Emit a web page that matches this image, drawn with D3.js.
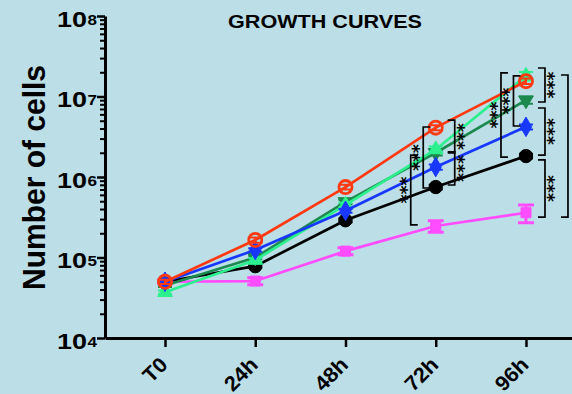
<!DOCTYPE html>
<html><head><meta charset="utf-8">
<script src="https://cdn.jsdelivr.net/npm/d3@7/dist/d3.min.js"></script>
<style>
html,body{margin:0;padding:0;background:#bcdee6;}
svg{display:block;font-family:"Liberation Sans",Arial,sans-serif;}
</style></head><body>
<script>
// ---- data ----
const timepoints = ["T0", "24h", "48h", "72h", "96h"];
const seriesNames = ["magenta", "black", "darkgreen", "green", "blue", "red"];
const magentaVals = [5.0e4, 5.1e4, 1.2e5, 2.46e5, 3.6e5];
const magentaSD   = [2e3, 5e3, 1.2e4, 4e4, 9e4];
const blackVals   = [5.0e4, 7.8e4, 2.9e5, 7.5e5, 1.82e6];
const blackSD     = [2e3, 4e3, 1.5e4, 5e4, 1.2e5];
const darkgreenVals = [4.5e4, 1.0e5, 4.9e5, 2.0e6, 9.0e6];
const darkgreenSD   = [2e3, 5e3, 3e4, 1.5e5, 9e5];
const greenVals   = [3.7e4, 9.3e4, 4.5e5, 2.2e6, 1.8e7];
const greenSD     = [2e3, 5e3, 3e4, 2e5, 2.2e6];
const blueVals    = [5.0e4, 1.24e5, 3.8e5, 1.33e6, 4.2e6];
const blueSD      = [2e3, 6e3, 2e4, 1e5, 3e5];
const redVals     = [5.0e4, 1.65e5, 7.5e5, 4.1e6, 1.55e7];
const redSD       = [3e3, 1.2e4, 5e4, 3e5, 1.2e6];
const yMajorTicks = [1e4, 1e5, 1e6, 1e7, 1e8];
const yTickExponents = ["4", "5", "6", "7", "8"];
const titleText = "GROWTH CURVES";
const yLabelText = "Number of cells";
// significance brackets: time index, upper & lower value, side, level
const bracketTime  = [3, 3, 3, 3, 4, 4, 4, 4, 4, 4];
const bracketHigh  = [1.87e6, 4.18e6, 5.1e6, 2.05e6, 1.96e7, 1.8e7, 2.26e7, 7.2e6, 1.63e6, 1.85e7];
const bracketLow   = [2.54e5, 7.3e5, 1.99e6, 7.96e5, 1.77e6, 4.3e6, 8.55e6, 1.87e6, 3.18e5, 3.18e5];
const bracketSide  = ["L", "L", "R", "R", "L", "L", "R", "R", "R", "R"];
const bracketLevel = [1, 0, 0, 0, 1, 0, 0, 0, 0, 1];
const bracketStars = ["***", "***", "***", "***", "***", "***", "***", "***", "***", ""];

// ---- styles ----
const W = 572, H = 394;
const styles = {
  magenta:   {color: "#ff4cff", symbol: d3.symbolSquare, size: 100, fill: true},
  black:     {color: "#000000", symbol: d3.symbolCircle, size: 140, fill: true},
  darkgreen: {color: "#1c8a4e", symbol: d3.symbolTriangle, size: 95, fill: true, rotate: 180},
  green:     {color: "#2cf08e", symbol: d3.symbolTriangle, size: 95, fill: true},
  blue:      {color: "#1838ff", symbol: d3.symbolDiamond, size: 110, fill: true},
  red:       {color: "#ff3a12", symbol: d3.symbolCircle, size: 135, fill: false}
};
const valuesBy = {magenta: magentaVals, black: blackVals, darkgreen: darkgreenVals, green: greenVals, blue: blueVals, red: redVals};
const sdBy = {magenta: magentaSD, black: blackSD, darkgreen: darkgreenSD, green: greenSD, blue: blueSD, red: redSD};

const svg = d3.select("body").append("svg").attr("width", W).attr("height", H);
svg.append("rect").attr("width", W).attr("height", H).attr("fill", "#bcdee6");

const x = d3.scaleLinear().domain([-0.665, 4.51]).range([105, 572]);
const y = d3.scaleLog().domain([1e4, 1e8]).range([338, 16]);

// title
svg.append("text").attr("x", 325).attr("y", 28).attr("text-anchor", "middle")
  .attr("font-size", 18).attr("font-weight", "bold")
  .attr("textLength", 194).attr("lengthAdjust", "spacingAndGlyphs").text(titleText);

// y label
svg.append("text").attr("transform", "translate(44.5,177.5) rotate(-90)")
  .attr("text-anchor", "middle").attr("font-size", 31).attr("font-weight", "bold")
  .attr("textLength", 225).attr("lengthAdjust", "spacingAndGlyphs").text(yLabelText);

// y axis minor ticks
const minor = [];
for (let e = 4; e < 8; e++) for (let m = 2; m <= 9; m++) minor.push(m * Math.pow(10, e));
const yMinor = svg.append("g").attr("transform", "translate(105,0)")
  .call(d3.axisLeft(y).tickValues(minor).tickSize(5).tickFormat(""));
yMinor.select(".domain").remove();
yMinor.selectAll(".tick line").attr("stroke", "#000").attr("stroke-width", 2);

const yAxis = svg.append("g").attr("transform", "translate(105,0)")
  .call(d3.axisLeft(y).tickValues(yMajorTicks).tickSize(8).tickSizeOuter(0).tickFormat(""));
yAxis.select(".domain").attr("stroke", "#000").attr("stroke-width", 3);
yAxis.selectAll(".tick line").attr("stroke", "#000").attr("stroke-width", 2.5);

// y tick labels 10^n
yMajorTicks.forEach((v, i) => {
  const ty = y(v);
  svg.append("text").attr("x", 87).attr("y", ty + 10.5).attr("text-anchor", "end")
    .attr("font-size", 22).attr("font-weight", "bold")
    .attr("textLength", 30).attr("lengthAdjust", "spacingAndGlyphs").text("10");
  svg.append("text").attr("x", 87.5).attr("y", ty + 8.5).attr("text-anchor", "start")
    .attr("font-size", 15).attr("font-weight", "bold")
    .attr("textLength", 9.5).attr("lengthAdjust", "spacingAndGlyphs").text(yTickExponents[i]);
});

// x axis
const xAxis = svg.append("g").attr("transform", "translate(0,338)")
  .call(d3.axisBottom(x).tickValues(d3.range(timepoints.length)).tickSize(9).tickSizeOuter(0).tickFormat(""));
xAxis.select(".domain").attr("stroke", "#000").attr("stroke-width", 3);
xAxis.selectAll(".tick line").attr("stroke", "#000").attr("stroke-width", 2.5);
timepoints.forEach((t, i) => {
  svg.append("text").attr("transform", `translate(${x(i) + 4},366) rotate(-45)`)
    .attr("text-anchor", "end").attr("font-size", 21).attr("font-weight", "bold")
    .attr("textLength", t.length * 12.5).attr("lengthAdjust", "spacingAndGlyphs")
    .text(t);
});

// series
const line = d3.line().x((d, i) => x(i)).y(d => y(d));
const gS = svg.append("g");
seriesNames.forEach(name => {
  const st = styles[name], vals = valuesBy[name], sds = sdBy[name];
  const g = gS.append("g");
  g.append("path").attr("d", line(vals)).attr("fill", "none")
    .attr("stroke", st.color).attr("stroke-width", 2.7).attr("stroke-linejoin", "round");
  // error bars
  vals.forEach((v, i) => {
    const cx = x(i), y1 = y(v + sds[i]), y2 = y(Math.max(v - sds[i], 1));
    const cw = name === "magenta" ? 8 : 7;
    g.append("path")
      .attr("d", `M${cx},${y1}V${y2}M${cx - cw},${y1}H${cx + cw}M${cx - cw},${y2}H${cx + cw}`)
      .attr("stroke", st.color).attr("stroke-width", name === "magenta" ? 3 : 2).attr("fill", "none");
  });
  // markers
  const sym = d3.symbol().type(st.symbol).size(st.size);
  g.selectAll(".m").data(vals).enter().append("path")
    .attr("d", sym)
    .attr("transform", (d, i) => `translate(${x(i)},${y(d)})` + (st.rotate ? ` rotate(${st.rotate})` : ""))
    .attr("fill", st.fill ? st.color : "none")
    .attr("stroke", st.color).attr("stroke-width", st.fill ? 1 : 2.8);
});

// significance brackets
const gB = svg.append("g");
const starSize = 17;
bracketTime.forEach((t, i) => {
  const side = bracketSide[i], lvl = bracketLevel[i];
  const off = side === "L" ? (lvl === 0 ? -12.5 : -25) : (lvl === 0 ? 19 : 42);
  const bx = x(t) + off;
  const y1 = y(bracketHigh[i]), y2 = y(bracketLow[i]);
  const w = side === "L" ? 7 : -7;
  gB.append("path").attr("d", `M${bx + w},${y1}H${bx}V${y2}H${bx + w}`)
    .attr("fill", "none").attr("stroke", "#000").attr("stroke-width", 1.7);
  if (!bracketStars[i]) return;
  const sx = side === "L" ? bx - 6.5 : bx + 6.5;
  const sy = (y1 + y2) / 2;
  gB.append("text").attr("transform", `translate(${sx},${sy}) rotate(90)`)
    .attr("text-anchor", "middle").attr("font-family", "'DejaVu Sans'").attr("font-weight", "bold")
    .attr("font-size", starSize).attr("x", 0).attr("y", starSize * 0.56)
    .text(bracketStars[i]);
});
</script>
</body></html>
